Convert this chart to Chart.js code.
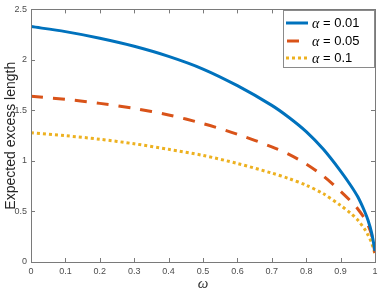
<!DOCTYPE html>
<html>
<head>
<meta charset="utf-8">
<script src="https://cdn.jsdelivr.net/npm/chart.js@4/dist/chart.umd.min.js"></script>
<style>
html,body{margin:0;padding:0;background:#fff;}
#wrap{width:382px;height:291px;position:relative;}
</style>
</head>
<body>
<div id="wrap"><canvas id="c" width="382" height="291"></canvas></div>
<script>
const omega = [0, 0.1, 0.2, 0.3, 0.4, 0.5, 0.6, 0.7, 0.75, 0.8, 0.85, 0.9, 0.93, 0.95, 0.97, 0.98, 0.99, 1.0];
const alpha001 = [2.33, 2.28, 2.215, 2.135, 2.035, 1.91, 1.745, 1.55, 1.43, 1.29, 1.115, 0.90, 0.755, 0.645, 0.50, 0.41, 0.29, 0.11];
const alpha005 = [1.64, 1.61, 1.57, 1.52, 1.455, 1.37, 1.265, 1.14, 1.065, 0.97, 0.85, 0.70, 0.60, 0.525, 0.43, 0.365, 0.27, 0.09];
const alpha01  = [1.28, 1.25, 1.215, 1.17, 1.115, 1.055, 0.975, 0.88, 0.825, 0.76, 0.675, 0.56, 0.48, 0.415, 0.325, 0.265, 0.19, 0.08];
const seriesLabels = ['α = 0.01', 'α = 0.05', 'α = 0.1'];
const xTicks = [0, 0.1, 0.2, 0.3, 0.4, 0.5, 0.6, 0.7, 0.8, 0.9, 1];
const yTicks = [0, 0.5, 1, 1.5, 2, 2.5];

const colors = ['#0072BD', '#D95319', '#EDB120'];
const dashes = [[], [12, 10], [3, 3]];
const seriesData = [alpha001, alpha005, alpha01];

const datasets = seriesData.map((arr, i) => ({
  label: seriesLabels[i],
  data: omega.map((w, j) => ({x: w, y: arr[j]})),
  borderColor: colors[i],
  backgroundColor: colors[i],
  borderWidth: 3,
  borderDash: dashes[i],
  borderJoinStyle: 'round',
  pointRadius: 0,
  fill: false,
  tension: 0.3
}));

const axisColor = '#7a7a7a';
const tickFont = {family: 'Liberation Sans, Arial, sans-serif', size: 9};

const frame = {
  id: 'frame',
  afterDraw(chart) {
    const ctx = chart.ctx, a = chart.chartArea;
    const xs = chart.scales.x, ys = chart.scales.y;
    ctx.save();
    ctx.strokeStyle = axisColor;
    ctx.lineWidth = 1;
    ctx.strokeRect(Math.round(a.left) + 0.5, Math.round(a.top) + 0.5, Math.round(a.right - a.left), Math.round(a.bottom - a.top));
    const L = 4;
    ctx.beginPath();
    xTicks.forEach(v => {
      const px = Math.round(xs.getPixelForValue(v)) + 0.5;
      ctx.moveTo(px, a.bottom); ctx.lineTo(px, a.bottom - L);
      ctx.moveTo(px, a.top); ctx.lineTo(px, a.top + L);
    });
    yTicks.forEach(v => {
      const py = Math.round(ys.getPixelForValue(v)) + 0.5;
      ctx.moveTo(a.left, py); ctx.lineTo(a.left + L, py);
      ctx.moveTo(a.right, py); ctx.lineTo(a.right - L, py);
    });
    ctx.stroke();

    // legend box inside the axes
    const bx = 283, by = 10, bw = 91, bh = 57;
    ctx.fillStyle = '#ffffff';
    ctx.fillRect(bx, by, bw, bh);
    ctx.strokeStyle = '#8a8a8a';
    ctx.strokeRect(bx + 0.5, by + 0.5, bw, bh);
    const rows = [23, 41, 58];
    chart.data.datasets.forEach((ds, i) => {
      const y = rows[i];
      ctx.beginPath();
      ctx.strokeStyle = ds.borderColor;
      ctx.lineWidth = 3;
      ctx.setLineDash(ds.borderDash);
      if (i === 1) { ctx.moveTo(287, y); ctx.lineTo(299, y); }
      else { ctx.moveTo(286, y); ctx.lineTo(308, y); }
      ctx.stroke();
      ctx.setLineDash([]);
      ctx.fillStyle = '#000';
      ctx.textBaseline = 'middle';
      ctx.textAlign = 'left';
      const parts = ds.label.split(' ');
      ctx.font = 'italic 14px "Liberation Serif", serif';
      ctx.fillText(parts[0], 312, y + 1);
      const w = ctx.measureText(parts[0]).width;
      ctx.font = '13px "Liberation Sans", Arial, sans-serif';
      ctx.fillText(' ' + parts.slice(1).join(' '), 312 + w, y);
    });
    ctx.restore();
  }
};

new Chart(document.getElementById('c'), {
  type: 'line',
  data: {datasets},
  options: {
    responsive: false,
    animation: false,
    layout: {padding: {left: 0, right: 7, top: 5, bottom: 0}},
    plugins: {legend: {display: false}, tooltip: {enabled: false}},
    scales: {
      x: {
        type: 'linear', min: 0, max: 1,
        afterFit(s) { s.height = 29; },
        afterBuildTicks(s) { s.ticks = xTicks.map(v => ({value: v})); },
        grid: {display: false, drawTicks: false},
        border: {display: true, color: axisColor},
        ticks: {font: tickFont, color: '#4d4d4d', padding: 4, maxRotation: 0, autoSkip: false,
          callback: v => String(v)},
        title: {display: true, text: 'ω', font: {family: 'Liberation Serif, serif', size: 15, style: 'italic'}, color: '#333', padding: {top: 0, bottom: -2}}
      },
      y: {
        type: 'linear', min: 0, max: 2.5,
        afterFit(s) { s.width = 31; },
        afterBuildTicks(s) { s.ticks = yTicks.map(v => ({value: v})); },
        grid: {display: false, drawTicks: false},
        border: {display: true, color: axisColor},
        ticks: {font: tickFont, color: '#4d4d4d', padding: 4, autoSkip: false,
          callback: v => String(v)},
        title: {display: true, text: 'Expected excess length', font: {family: 'Liberation Sans, Arial, sans-serif', size: 14}, color: '#262626', padding: {top: 3, bottom: 0}}
      }
    }
  },
  plugins: [frame]
});
</script>
</body>
</html>
